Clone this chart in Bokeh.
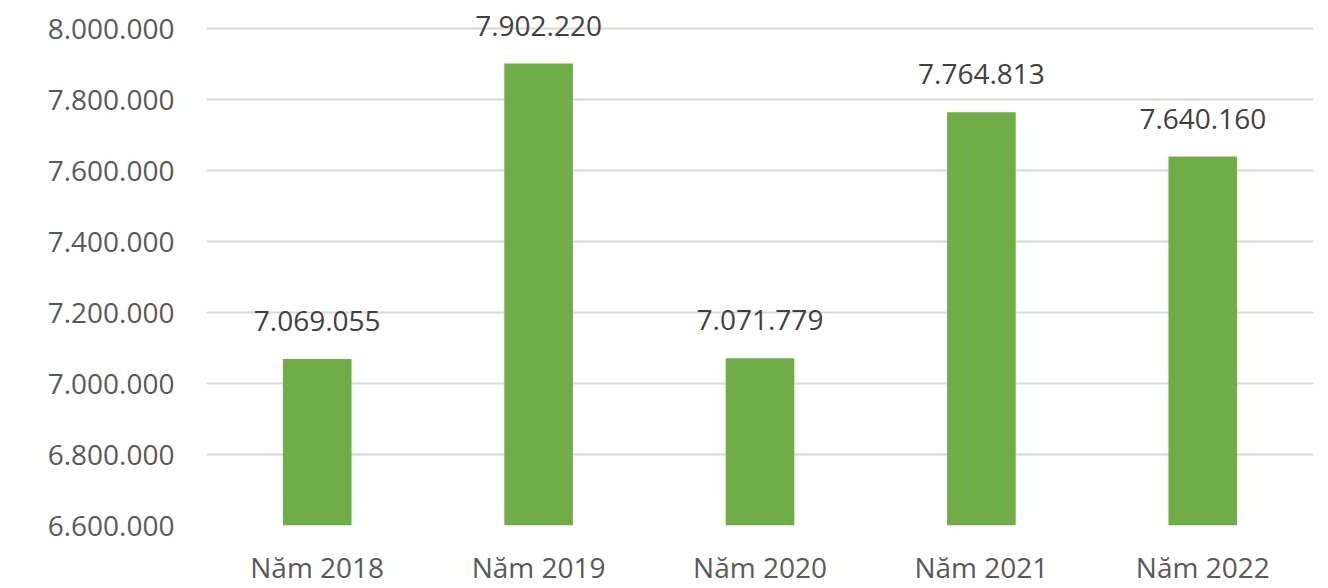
from bokeh.plotting import figure
from bokeh.models import ColumnDataSource, FixedTicker, Range1d, FactorRange
from bokeh.core.properties import value
from bokeh.embed import file_html
from bokeh.resources import INLINE

years = ["Năm 2018", "Năm 2019", "Năm 2020", "Năm 2021", "Năm 2022"]
values = [7069055, 7902220, 7071779, 7764813, 7640160]
y_ticks = [6600000, 6800000, 7000000, 7200000, 7400000, 7600000, 7800000, 8000000]


def fmt(v):
    return f"{v:,}".replace(",", ".")


src = ColumnDataSource(dict(
    x=years,
    top=values,
    bottom=[y_ticks[0]] * len(values),
    label=[fmt(v) for v in values],
))

FONT = "Open Sans"

p = figure(
    x_range=FactorRange(*years, range_padding=0),
    y_range=Range1d(6600000, 8080000),
    width=1320, height=588,
    output_backend="svg", toolbar_location=None,
    min_border_left=206, min_border_right=7, min_border_top=0, min_border_bottom=63,
)
p.outline_line_color = None
p.background_fill_color = "white"
p.border_fill_color = "white"

p.vbar(x="x", top="top", bottom="bottom", width=0.31, source=src,
       fill_color="#70AD47", line_color=None)

p.text(x="x", y="top", text="label", source=src,
       text_align="center", text_baseline="middle", y_offset=-38,
       text_font=value(FONT), text_font_size="28px", text_color="#404040")

p.yaxis.ticker = FixedTicker(ticks=y_ticks)
p.yaxis.major_label_overrides = {t: fmt(t) for t in y_ticks}
p.yaxis.axis_line_color = None
p.yaxis.major_tick_line_color = None
p.yaxis.minor_tick_line_color = None
p.yaxis.major_label_standoff = 26
p.yaxis.major_label_text_font = FONT
p.yaxis.major_label_text_font_size = "28px"
p.yaxis.major_label_text_color = "#595959"

p.xaxis.axis_line_color = None
p.xaxis.major_tick_line_color = None
p.xaxis.minor_tick_line_color = None
p.xaxis.major_label_standoff = 16
p.xaxis.major_label_text_font = FONT
p.xaxis.major_label_text_font_size = "28px"
p.xaxis.major_label_text_color = "#595959"

p.xgrid.grid_line_color = None
p.ygrid.grid_line_color = "#d9d9d9"
p.ygrid.grid_line_width = 2

open("out.html", "w").write(file_html(p, INLINE))
